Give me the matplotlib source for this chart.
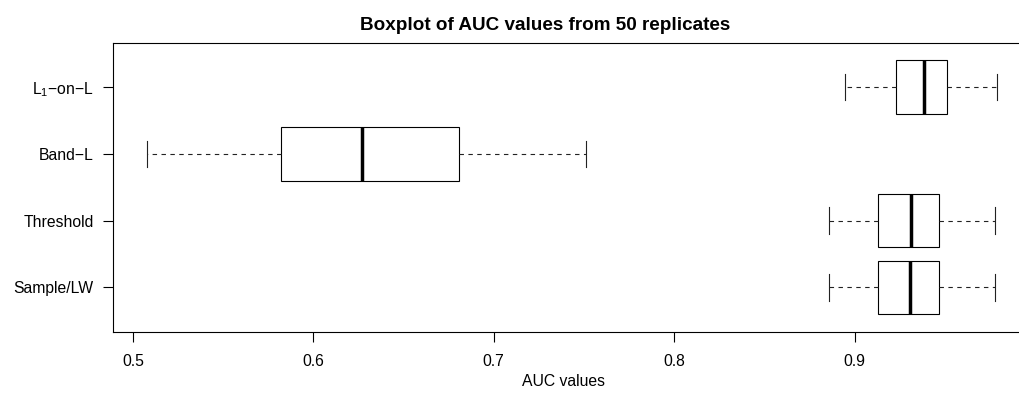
import matplotlib
matplotlib.use("Agg")
import matplotlib.pyplot as plt

plt.rcParams["font.family"] = ["Liberation Sans", "DejaVu Sans"]
plt.rcParams["mathtext.fontset"] = "custom"
plt.rcParams["mathtext.rm"] = "Liberation Sans"
plt.rcParams["mathtext.it"] = "Liberation Sans"
plt.rcParams["mathtext.bf"] = "Liberation Sans:bold"

# AUC summaries per method (bottom to top)
methods = ["Sample/LW", "Threshold", "Band\u2212L", "L$_1$\u2212on\u2212L"]
whisker_low = [0.886, 0.886, 0.508, 0.895]
quartile_1 = [0.913, 0.913, 0.582, 0.923]
medians = [0.9305, 0.9313, 0.627, 0.9386]
quartile_3 = [0.947, 0.947, 0.681, 0.951]
whisker_high = [0.978, 0.978, 0.751, 0.979]
x_ticks = [0.5, 0.6, 0.7, 0.8, 0.9]

W, H = 1019, 394
fig = plt.figure(figsize=(W / 100, H / 100), dpi=100)
left, right, top, bottom = 113.4, 1031.0, 43.0, 331.5
ax = fig.add_axes([left / W, 1 - bottom / H, (right - left) / W, (bottom - top) / H])

stats = [
    dict(whislo=lo, q1=a, med=m, q3=b, whishi=hi, fliers=[], label=name)
    for lo, a, m, b, hi, name in zip(whisker_low, quartile_1, medians,
                                     quartile_3, whisker_high, methods)
]
positions = list(range(1, len(stats) + 1))
ax.bxp(
    stats, positions=positions, vert=False, widths=0.8, showfliers=False,
    patch_artist=True,
    boxprops=dict(facecolor="white", edgecolor="black", linewidth=0.8),
    medianprops=dict(color="black", linewidth=2.5, solid_capstyle="butt"),
    whiskerprops=dict(color="#222222", linewidth=0.8, linestyle=(0, (4, 4))),
    capprops=dict(color="#222222", linewidth=0.8),
    capwidths=0.4,
)

# R-style axis extents: data range padded by 4%
lo_all, hi_all = min(whisker_low), max(whisker_high)
pad = 0.04 * (hi_all - lo_all)
ax.set_xlim(lo_all - pad, hi_all + pad)
n = len(stats)
ax.set_ylim(0.5 - 0.04 * n, n + 0.5 + 0.04 * n)

ax.set_xticks(x_ticks)
ax.set_xticklabels([f"{t:.1f}" for t in x_ticks])
ax.set_yticks(positions)
ax.set_yticklabels(methods)
ax.tick_params(axis="both", direction="out", length=7.3, width=0.8,
               labelsize=11.3, color="black")
ax.tick_params(axis="y", pad=7.0)
ax.tick_params(axis="x", pad=9.0)
for s in ax.spines.values():
    s.set_linewidth(0.8)

fig.text(545 / W, 1 - 25 / H, "Boxplot of AUC values from 50 replicates",
         ha="center", va="center", fontsize=13.6, fontweight="bold")
fig.text(563 / W, 1 - 382 / H, "AUC values", ha="center", va="center",
         fontsize=11.3)

fig.savefig("out.png", dpi=100)
